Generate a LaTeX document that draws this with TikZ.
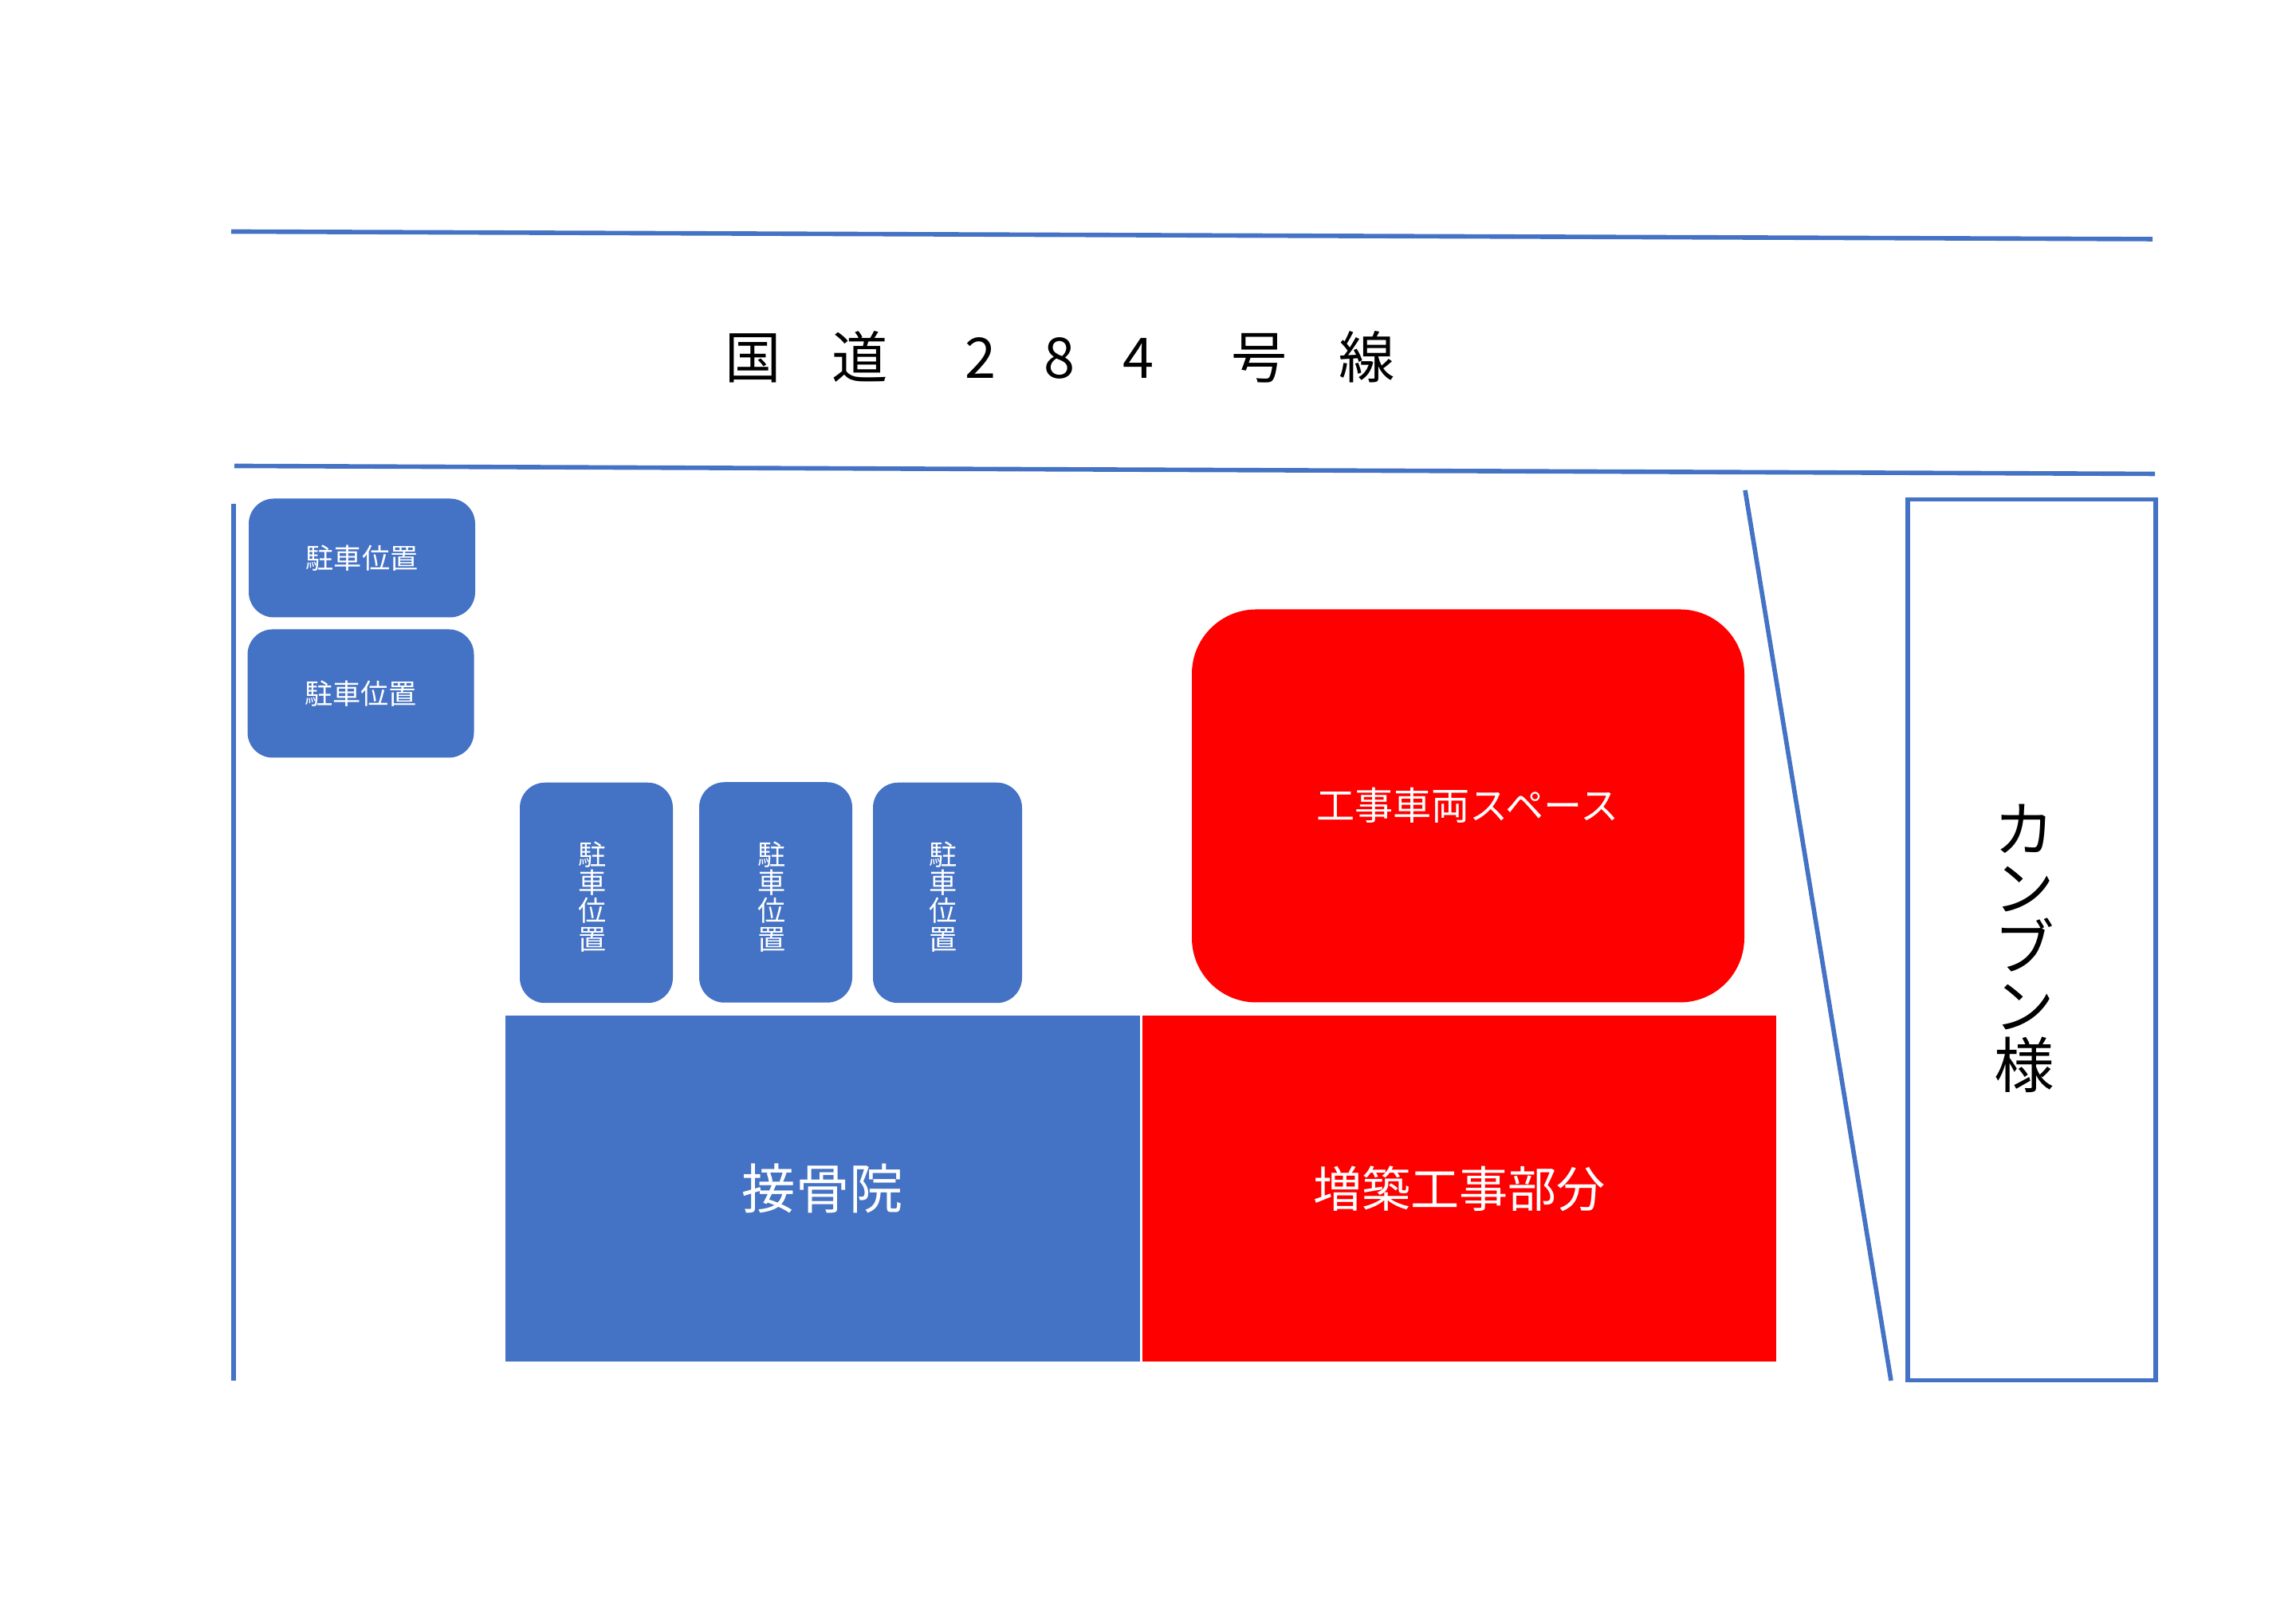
\documentclass[tikz,border=0pt]{standalone}
\usepackage{fontspec}
\setmainfont{Noto Sans CJK JP}
\definecolor{planblue}{RGB}{68, 114, 196}
\definecolor{planred}{RGB}{255, 0, 0}
\usetikzlibrary{positioning}
\tikzset{
  roadline/.style={draw=planblue, line width=1.6pt},
  areabox/.style={inner sep=0pt, outer sep=0pt, text=white, align=center},
  parkbox/.style={areabox, fill=planblue, rounded corners=9pt},
  parkh/.style={parkbox, font=\fontsize{10}{10}\selectfont},
  parkv/.style={parkbox, minimum width=1.92cm, minimum height=2.765cm},
  parktext/.style={inner sep=0pt, text=white, align=center, font=\fontsize{10}{10}\selectfont},
}
\begin{document}
\begin{tikzpicture}
  \useasboundingbox (0, 0) rectangle (28.8, 20.36);
  \fill[white] (0, 0) rectangle (28.8, 20.36);

  % Road
  \coordinate (roadAw) at (2.90, 17.455);
  \coordinate (roadAe) at (27.00, 17.36);
  \coordinate (roadBw) at (2.94, 14.515);
  \coordinate (roadBe) at (27.03, 14.415);
  \draw[roadline] (roadAw) -- (roadAe);
  \draw[roadline] (roadBw) -- (roadBe);
  \node[inner sep=0pt, font=\fontsize{20}{20}\selectfont] (roadname) at (13.30, 15.88) {
    国\hspace{0.63cm}道\hspace{0.97cm}2\hspace{0.60cm}8\hspace{0.60cm}4\hspace{0.97cm}号\hspace{0.65cm}線
  };

  % Site edges
  \coordinate (edgeWn) at (2.93, 14.04);
  \coordinate (edgeWs) at (2.93, 3.04);
  \coordinate (edgeEn) at (21.89, 14.21);
  \coordinate (edgeEs) at (23.72, 3.04);
  \draw[roadline] (edgeWn) -- (edgeWs);
  \draw[roadline] (edgeEn) -- (edgeEs);

  % Parking, left column
  \node[parkh, minimum width=2.84cm, minimum height=1.49cm] (parkA) at (4.54, 13.36) {駐車位置};
  \node[parkh, minimum width=2.84cm, minimum height=1.61cm] (parkB) at (4.525, 11.66) {駐車位置};

  % Parking, row above the clinic
  \node[parkv] (parkC) at (7.48, 9.16) {};
  \node[parkv] (parkD) at (9.73, 9.165) {};
  \node[parkv, minimum width=1.87cm] (parkE) at (11.885, 9.16) {};
  \node[parktext] at (7.426, 9.11) {駐\\車\\位\\置};
  \node[parktext] at (9.68, 9.11) {駐\\車\\位\\置};
  \node[parktext] at (11.83, 9.11) {駐\\車\\位\\置};

  % Buildings
  \node[areabox, fill=planblue, minimum width=7.96cm, minimum height=4.34cm, font=\fontsize{19.2}{19.2}\selectfont] (clinic) at (10.32, 5.45) {接骨院};
  \node[areabox, fill=planred, minimum width=7.95cm, minimum height=4.34cm, font=\fontsize{17.4}{17.4}\selectfont] (extension) at (18.305, 5.45) {増築工事部分};
  \node[areabox, fill=planred, rounded corners=23pt, minimum width=6.93cm, minimum height=4.93cm] (vehicles) at (18.415, 10.25) {};
  \node[inner sep=0pt, text=white, font=\fontsize{13.7}{13.7}\selectfont] at (18.41, 10.26) {工事車両スペース};

  % Neighbour
  \node[draw=planblue, line width=1.5pt, inner sep=0pt, outer sep=0pt, minimum width=3.11cm, minimum height=11.05cm] (neighbour) at (25.485, 8.57) {};
  \node[inner sep=0pt, align=center, font=\fontsize{21.5}{21}\selectfont] at (25.39, 8.46) {カ\\ン\\ブ\\ン\\様};
\end{tikzpicture}
\end{document}
